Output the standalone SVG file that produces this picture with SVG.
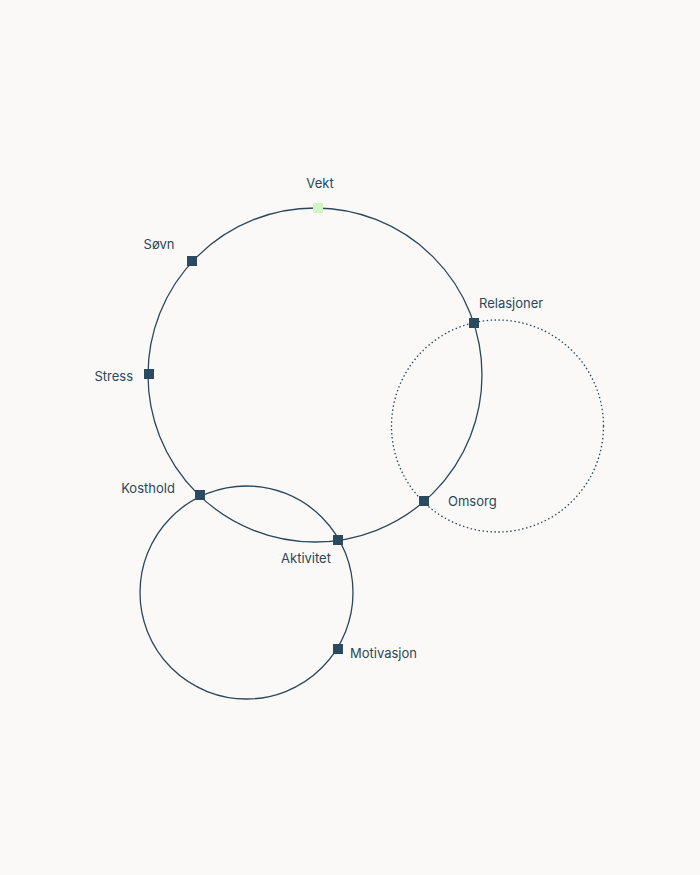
<svg xmlns="http://www.w3.org/2000/svg" width="700" height="875" viewBox="0 0 700 875">
<style>
.ring{fill:none;stroke:#2b4759;stroke-width:1.3}
.dot{stroke-dasharray:1.5 2.5}
.n{fill:#2b4a60}
.hi{fill:#d3f5c2}
text{font-family:Inter,"Liberation Sans",sans-serif;font-size:13px;fill:#2b4759}
</style>
<rect width="700" height="875" fill="#faf9f7"/>
<g id="connectors">
<circle class="ring" cx="315" cy="375" r="167"/>
<circle class="ring" cx="246.5" cy="592.5" r="106.5"/>
<circle class="ring dot" cx="497.5" cy="426" r="106"/>
</g>
<g id="vekt"><rect class="hi" x="313" y="203" width="10" height="10"/><text x="320" y="188" text-anchor="middle">Vekt</text></g>
<g id="sovn"><rect class="n" x="187" y="256" width="10" height="10"/><text x="159" y="249" text-anchor="middle">Søvn</text></g>
<g id="stress"><rect class="n" x="144" y="369" width="10" height="10"/><text x="133" y="381" text-anchor="end">Stress</text></g>
<g id="kosthold"><rect class="n" x="195" y="490" width="10" height="10"/><text x="148" y="493" text-anchor="middle">Kosthold</text></g>
<g id="aktivitet"><rect class="n" x="333" y="535" width="10" height="10"/><text x="306" y="563" text-anchor="middle">Aktivitet</text></g>
<g id="omsorg"><rect class="n" x="419" y="496" width="10" height="10"/><text x="448" y="506">Omsorg</text></g>
<g id="relasjoner"><rect class="n" x="469" y="318" width="10" height="10"/><text x="479" y="308">Relasjoner</text></g>
<g id="motivasjon"><rect class="n" x="333" y="644" width="10" height="10"/><text x="350" y="658">Motivasjon</text></g>
</svg>
